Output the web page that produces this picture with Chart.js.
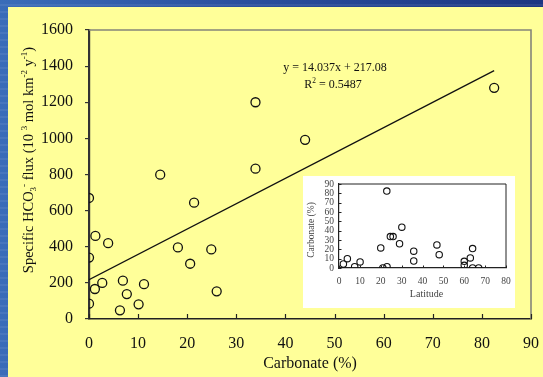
<!DOCTYPE html>
<html>
<head>
<meta charset="utf-8">
<script src="https://cdn.jsdelivr.net/npm/chart.js@4.4.1/dist/chart.umd.min.js"></script>
<style>
  body {
    margin: 0; width: 543px; height: 377px; overflow: hidden; position: relative;
    background:
      repeating-linear-gradient(0deg, rgba(255,255,255,0.07) 0 2px, transparent 2px 7px),
      linear-gradient(90deg, #3a6cb9 0%, #2a4f9e 45%, #1c3682 100%);
  }
  #panel { position: absolute; left: 8px; top: 7px; width: 535px; height: 370px; background: #ffff99; }
  #main { position: absolute; left: 0; top: 0; }
  #insetBox { position: absolute; left: 303px; top: 176px; width: 212px; height: 132px; background: #fff; }
</style>
</head>
<body>
<div id="panel"></div>
<canvas id="main" width="543" height="377"></canvas>
<div id="insetBox"><canvas id="inset" width="212" height="132"></canvas></div>
<script>
// carbonate content (%) vs specific bicarbonate flux, one value per basin
const carbonate = [0, 0, 0, 1.3, 3.9, 1.2, 2.7, 6.9, 7.7, 6.3, 10.1, 11.2, 14.5, 21.4, 18.1, 20.6, 24.9, 26.0, 33.9, 33.9, 44.0, 82.5];
const hco3Flux = [670, 340, 85, 460, 420, 166, 200, 212, 138, 48, 81, 193, 799, 644, 396, 306, 385, 153, 1200, 832, 992, 1280];

// linear fit as printed on the chart
const fitSlope = 14.037;
const fitIntercept = 217.08;
const fitR2 = 0.5487;

// inset: carbonate (%) by latitude
const latitude = [2.1, 4.0, 7.5, 10.1, 20, 21, 23, 22.9, 24.6, 25.9, 29, 30.1, 35.8, 35.8, 46.9, 48, 60, 60, 62.9, 64, 64, 66.9];
const latCarbonate = [4.3, 10, 1.4, 6.5, 21.5, 0, 1.4, 82.4, 33.7, 33.7, 26, 43.7, 18, 7.5, 24.7, 14.3, 7.2, 2.9, 10.8, 20.8, 0, 0];

const mainX = { min: 0, max: 90, step: 10 };
const mainY = { min: 0, max: 1600, step: 200 };
const insetX = { min: 0, max: 80, step: 10 };
const insetY = { min: 0, max: 90, step: 10 };

const SERIF = '"Liberation Serif", "Times New Roman", serif';
const plain = v => String(v);

function pairs(xs, ys) {
  return xs.map((x, i) => ({ x: x, y: ys[i] }));
}

// fixed box size for an axis; the end labels may hang over the padding
function fixBox(w, h) {
  return s => {
    if (w) s.width = w;
    if (h) s.height = h;
    s.paddingLeft = 0;
    s.paddingRight = 0;
    s.paddingTop = 0;
    s.paddingBottom = 0;
  };
}

// text with super/subscripts, centred on the current origin
function drawRich(ctx, parts, size) {
  const fontFor = k => (k === 'n' ? size : size * 0.62) + 'px ' + SERIF;
  let total = 0;
  const widths = parts.map(p => {
    ctx.font = fontFor(p[1]);
    const w = ctx.measureText(p[0]).width;
    total += w;
    return w;
  });
  let cx = -total / 2;
  parts.forEach((p, i) => {
    ctx.font = fontFor(p[1]);
    const dy = p[1] === 'sup' ? -size * 0.4 : p[1] === 'sub' ? size * 0.22 : 0;
    ctx.fillText(p[0], cx, dy);
    cx += widths[i];
  });
}

// inward tick marks plus the top/right frame
const frameTicks = {
  id: 'frameTicks',
  afterDraw(chart, args, o) {
    const { ctx, chartArea: a, scales: { x, y } } = chart;
    ctx.save();
    ctx.strokeStyle = o.frameColor;
    ctx.lineWidth = o.frameWidth;
    ctx.beginPath();
    ctx.moveTo(a.left, a.top);
    ctx.lineTo(a.right, a.top);
    ctx.lineTo(a.right, a.bottom);
    ctx.stroke();
    ctx.strokeStyle = o.tickColor;
    ctx.lineWidth = o.tickWidth;
    ctx.beginPath();
    if (o.xLen) {
      x.ticks.forEach(t => {
        const px = Math.round(x.getPixelForValue(t.value)) + 0.5;
        ctx.moveTo(px, a.bottom);
        ctx.lineTo(px, a.bottom - o.xLen);
      });
    }
    if (o.yLen) {
      y.ticks.forEach(t => {
        const py = Math.round(y.getPixelForValue(t.value)) + 0.5;
        ctx.moveTo(a.left, py);
        ctx.lineTo(a.left + o.yLen, py);
      });
    }
    ctx.stroke();
    ctx.restore();
  }
};

// axis titles and the fit equation
const mainLabels = {
  id: 'mainLabels',
  afterDraw(chart) {
    const { ctx, chartArea: a } = chart;
    ctx.save();
    ctx.fillStyle = '#111';
    ctx.textAlign = 'left';
    ctx.textBaseline = 'alphabetic';

    ctx.save();
    ctx.translate(33, 160);
    ctx.rotate(-Math.PI / 2);
    drawRich(ctx, [
      ['Specific HCO', 'n'], ['3', 'sub'], ['-', 'sup'], [' flux (10 ', 'n'], ['3', 'sup'],
      [' mol km', 'n'], ['-2', 'sup'], [' y', 'n'], ['-1', 'sup'], [')', 'n']
    ], 14.5);
    ctx.restore();

    ctx.save();
    ctx.translate((a.left + a.right) / 2, 368);
    drawRich(ctx, [['Carbonate (%)', 'n']], 16);
    ctx.restore();

    ctx.save();
    ctx.translate(335, 71);
    drawRich(ctx, [['y = ' + fitSlope.toFixed(3) + 'x + ' + fitIntercept.toFixed(2), 'n']], 12);
    ctx.restore();

    ctx.save();
    ctx.translate(333, 88);
    drawRich(ctx, [['R', 'n'], ['2', 'sup'], [' = ' + fitR2.toFixed(4), 'n']], 12);
    ctx.restore();

    ctx.restore();
  }
};

const fitEnd = Math.max(...carbonate);
const fitLine = [0, fitEnd].map(x => ({ x: x, y: fitSlope * x + fitIntercept }));

new Chart(document.getElementById('main'), {
  type: 'scatter',
  data: {
    datasets: [{
      label: 'basins',
      data: pairs(carbonate, hco3Flux),
      pointRadius: 4.5,
      pointBorderWidth: 1.3,
      pointBorderColor: '#111',
      pointBackgroundColor: 'rgba(0,0,0,0)'
    }, {
      type: 'line',
      label: 'fit',
      data: fitLine,
      borderColor: '#111',
      borderWidth: 1.3,
      pointRadius: 0
    }]
  },
  options: {
    responsive: false,
    animation: false,
    events: [],
    layout: { padding: { left: 0, top: 30, right: 12, bottom: 0 } },
    plugins: {
      legend: { display: false },
      tooltip: { enabled: false },
      frameTicks: { frameColor: '#85857a', frameWidth: 1.6, tickColor: '#222', tickWidth: 1.2, xLen: 5, yLen: 0 }
    },
    scales: {
      x: {
        type: 'linear',
        min: mainX.min, max: mainX.max,
        afterFit: fixBox(0, 58),
        grid: { display: false, drawTicks: false },
        border: { color: '#222', width: 1.6 },
        ticks: { stepSize: mainX.step, padding: 15, color: '#111', callback: plain, font: { family: SERIF, size: 16 } }
      },
      y: {
        min: mainY.min, max: mainY.max,
        afterFit: fixBox(89, 0),
        grid: { drawOnChartArea: false, tickLength: 4, color: '#333', lineWidth: 1.2 },
        border: { color: '#333', width: 2.2 },
        ticks: { stepSize: mainY.step, padding: 12, color: '#111', callback: plain, font: { family: SERIF, size: 16 } }
      }
    }
  },
  plugins: [frameTicks, mainLabels]
});

const insetLabels = {
  id: 'insetLabels',
  afterDraw(chart) {
    const { ctx, chartArea: a } = chart;
    ctx.save();
    ctx.fillStyle = '#444';
    ctx.textAlign = 'left';
    ctx.textBaseline = 'alphabetic';
    ctx.save();
    ctx.translate(11, (a.top + a.bottom) / 2 + 4);
    ctx.rotate(-Math.PI / 2);
    drawRich(ctx, [['Carbonate (%)', 'n']], 9.5);
    ctx.restore();
    ctx.save();
    ctx.translate((a.left + a.right) / 2 + 4, 121);
    drawRich(ctx, [['Latitude', 'n']], 10);
    ctx.restore();
    ctx.restore();
  }
};

new Chart(document.getElementById('inset'), {
  type: 'scatter',
  data: {
    datasets: [{
      label: 'carbonate by latitude',
      data: pairs(latitude, latCarbonate),
      pointRadius: 3.2,
      pointBorderWidth: 1.1,
      pointBorderColor: '#111',
      pointBackgroundColor: 'rgba(0,0,0,0)'
    }]
  },
  options: {
    responsive: false,
    animation: false,
    events: [],
    layout: { padding: { left: 0, top: 8, right: 9, bottom: 0 } },
    plugins: {
      legend: { display: false },
      tooltip: { enabled: false },
      frameTicks: { frameColor: '#222', frameWidth: 1, tickColor: '#222', tickWidth: 1, xLen: 2.5, yLen: 2.5 }
    },
    scales: {
      x: {
        type: 'linear',
        min: insetX.min, max: insetX.max,
        afterFit: fixBox(0, 40),
        grid: { display: false, drawTicks: false },
        border: { color: '#222', width: 1.2 },
        ticks: { stepSize: insetX.step, padding: 8, autoSkip: false, maxRotation: 0, color: '#444', callback: plain, font: { family: SERIF, size: 9.5 } }
      },
      y: {
        min: insetY.min, max: insetY.max,
        afterFit: fixBox(36, 0),
        grid: { display: false, drawTicks: false },
        border: { color: '#222', width: 1.2 },
        ticks: { stepSize: insetY.step, padding: 5, autoSkip: false, color: '#444', callback: plain, font: { family: SERIF, size: 9.5 } }
      }
    }
  },
  plugins: [frameTicks, insetLabels]
});
</script>
</body>
</html>
